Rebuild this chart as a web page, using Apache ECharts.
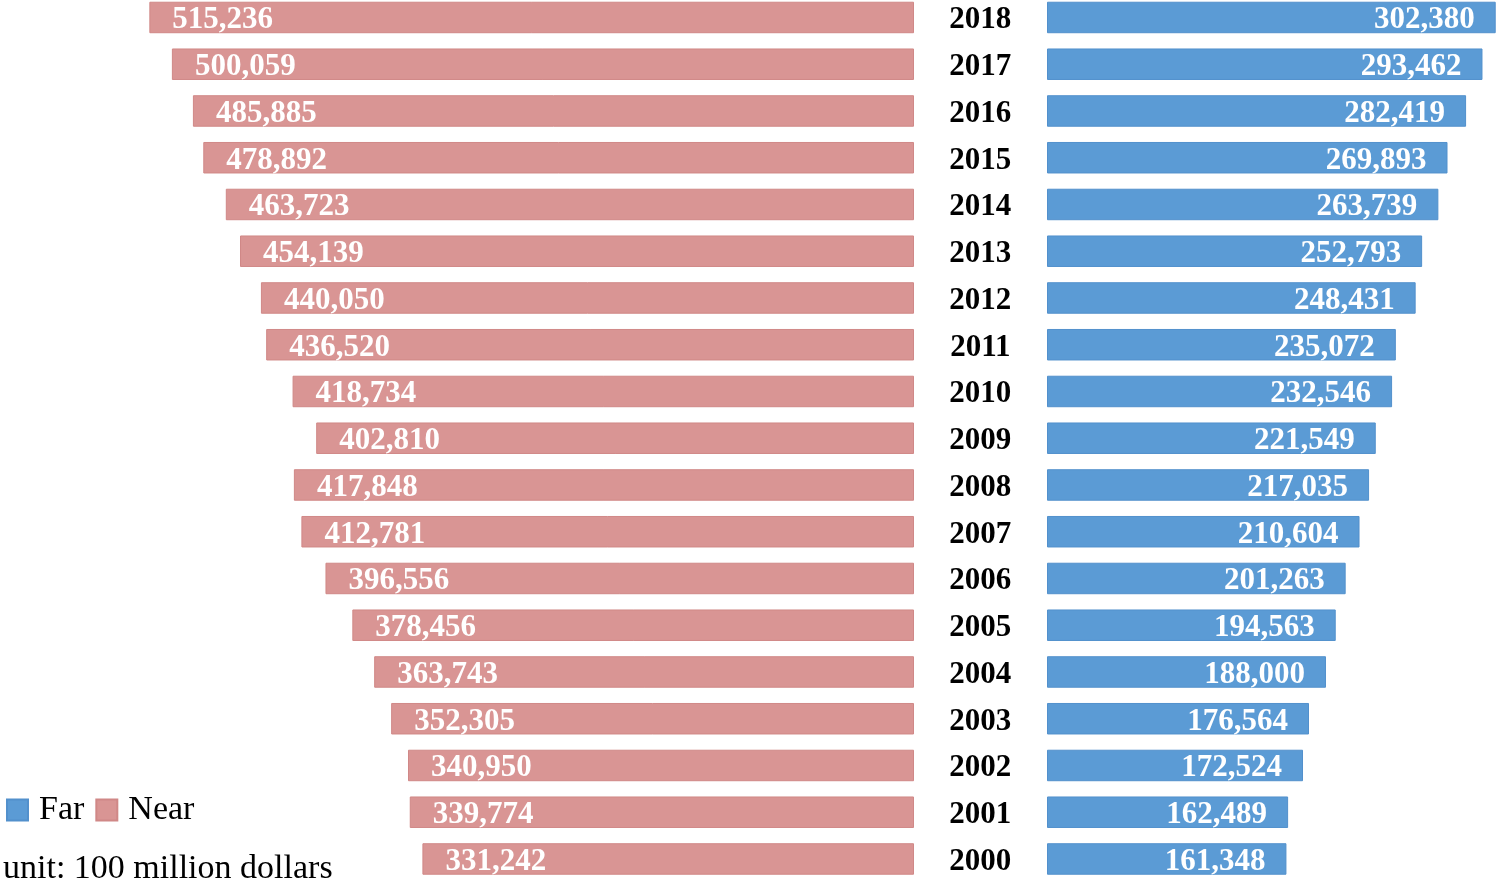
<!DOCTYPE html>
<html>
<head>
<meta charset="utf-8">
<script src="https://cdn.jsdelivr.net/npm/echarts@6/dist/echarts.min.js"></script>
<style>html,body{margin:0;padding:0;background:#fff}#c{width:1500px;height:885px}</style>
</head>
<body>
<div id="c"></div>
<script>
var years = ['2000','2001','2002','2003','2004','2005','2006','2007','2008','2009','2010','2011','2012','2013','2014','2015','2016','2017','2018'];
var nearValues = [331242,339774,340950,352305,363743,378456,396556,412781,417848,402810,418734,436520,440050,454139,463723,478892,485885,500059,515236];
var farValues = [161348,162489,172524,176564,188000,194563,201263,210604,217035,221549,232546,235072,248431,252793,263739,269893,282419,293462,302380];
var unitText = 'unit: 100 million dollars';

var FONT = '"Liberation Serif","Times New Roman",serif';
var chart = echarts.init(document.getElementById('c'));
function fmt(v){ return v.toLocaleString('en-US'); }
chart.setOption({
  animation: false,
  backgroundColor: '#fff',
  legend: {
    data: ['Far','Near'],
    left: 6, top: 793, padding: 0,
    itemWidth: 21, itemHeight: 21, itemGap: 11,
    icon: 'rect',
    textStyle: { fontFamily: FONT, fontSize: 34, color: '#000', padding: [0,0,0,6] }
  },
  graphic: [{
    type: 'text', left: 3, top: 852,
    style: { text: unitText, font: '34px ' + FONT, fill: '#000' }
  }],
  grid: [
    { left: 112.6, right: 586, top: -5.9, height: 888.25, containLabel: false, outerBoundsMode: 'none' },
    { left: 1047, right: 0.4, top: -5.9, height: 888.25, containLabel: false, outerBoundsMode: 'none' }
  ],
  xAxis: [
    { gridIndex: 0, type: 'value', inverse: true, min: 0, max: 540000, show: false },
    { gridIndex: 1, type: 'value', min: 0, max: 305000, show: false }
  ],
  yAxis: [
    { gridIndex: 0, type: 'category', data: years, show: false },
    { gridIndex: 1, type: 'category', data: years,
      axisLine: { show: false }, axisTick: { show: false },
      axisLabel: { show: true, margin: 66.7, align: 'center',
        formatter: function(v){ return '{y|' + v + '}'; },
        rich: { y: { padding: [6,0,0,0], fontFamily: FONT, fontWeight: 'bold', fontSize: 31, color: '#000' } },
        fontFamily: FONT, fontWeight: 'bold', fontSize: 31, color: '#000' } }
  ],
  series: [
    { name: 'Near', type: 'bar', xAxisIndex: 0, yAxisIndex: 0, data: nearValues, barWidth: 31.5,
      itemStyle: { color: '#D99594', borderColor: '#D08887', borderWidth: 1 },
      label: { show: true, position: 'insideLeft', distance: 23, offset: [0, 3], formatter: function(p){return fmt(p.value);},
        fontFamily: FONT, fontWeight: 'bold', fontSize: 31, color: '#fff' } },
    { name: 'Far', type: 'bar', xAxisIndex: 1, yAxisIndex: 1, data: farValues, barWidth: 31.5,
      itemStyle: { color: '#5B9BD5', borderColor: '#5290CC', borderWidth: 1 },
      label: { show: true, position: 'insideRight', distance: 21, offset: [0, 3], formatter: function(p){return fmt(p.value);},
        fontFamily: FONT, fontWeight: 'bold', fontSize: 31, color: '#fff' } }
  ]
});
</script>
</body>
</html>
